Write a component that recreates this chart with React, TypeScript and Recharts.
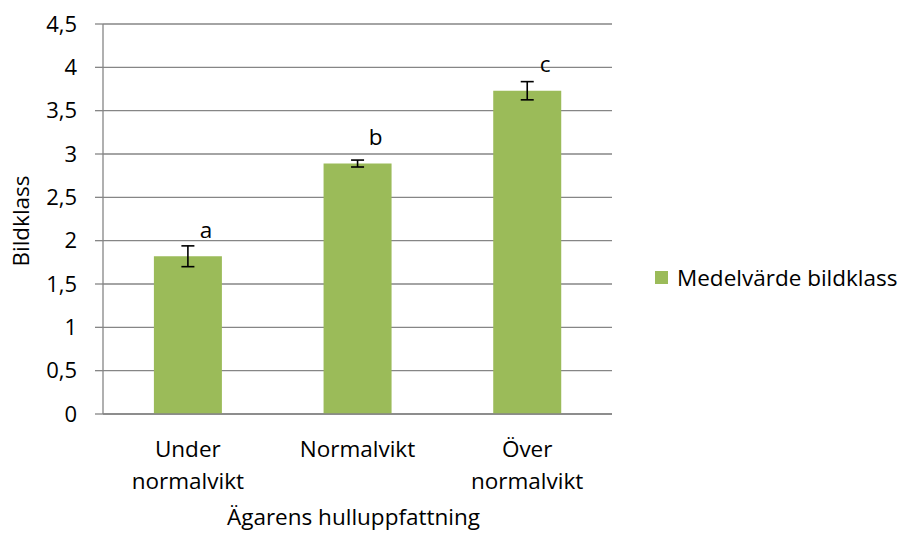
import React from "react";
import { BarChart, Bar, XAxis, YAxis, CartesianGrid, ErrorBar, LabelList, Label } from "recharts";

const categories = ["Under\nnormalvikt", "Normalvikt", "Över\nnormalvikt"];
const meanValues = [1.82, 2.89, 3.73];
const errorValues = [0.12, 0.04, 0.105];
const letters = ["a", "b", "c"];
const yTicks = [0, 0.5, 1, 1.5, 2, 2.5, 3, 3.5, 4, 4.5];
const seriesName = "Medelvärde bildklass";
const xTitle = "Ägarens hulluppfattning";
const yTitle = "Bildklass";

const data = categories.map((c, i) => ({
  cat: c,
  value: meanValues[i],
  err: errorValues[i],
  letter: letters[i],
}));

const FONT = "'Open Sans', sans-serif";
const FS = 22.5;
const GREEN = "#9BBB59";
const GRAY = "#868686";

const XTick = (props: any) => {
  const { x, payload } = props;
  const lines = String(payload.value).split("\n");
  return (
    <g>
      {lines.map((l: string, i: number) => (
        <text
          key={i}
          x={x}
          y={457 + i * 32}
          textAnchor="middle"
          fontFamily={FONT}
          fontSize={FS}
          fill="#000"
        >
          {l}
        </text>
      ))}
    </g>
  );
};

const LetterLabel = (props: any) => {
  const { x, y, width, value } = props;
  return (
    <text
      x={x + width / 2 + 18}
      y={y - 27}
      textAnchor="middle"
      dominantBaseline="central"
      fontFamily={FONT}
      fontSize={FS}
      fill="#000"
    >
      {value}
    </text>
  );
};

export default function App() {
  return (
    <div style={{ position: "absolute", left: 0, top: 0, width: 908, height: 533, background: "#fff" }}>
      <BarChart
        width={908}
        height={533}
        data={data}
        margin={{ top: 24, right: 296, bottom: 0, left: 0 }}
        barCategoryGap="30%"
      >
        <CartesianGrid vertical={false} stroke={GRAY} strokeWidth={1.3} />
        <XAxis
          dataKey="cat"
          height={119}
          axisLine={{ stroke: GRAY, strokeWidth: 1.3 }}
          tickLine={false}
          tick={<XTick />}
          interval={0}
        >
          <Label
            content={(p: any) => {
              const vb = p.viewBox;
              return (
                <text
                  x={vb.x + vb.width / 2 - 4}
                  y={525}
                  textAnchor="middle"
                  fontFamily={FONT}
                  fontSize={FS}
                  fill="#000"
                >
                  {xTitle}
                </text>
              );
            }}
          />
        </XAxis>
        <YAxis
          width={103}
          domain={[0, 4.5]}
          ticks={yTicks}
          interval={0}
          axisLine={{ stroke: GRAY, strokeWidth: 1.3 }}
          tickLine={{ stroke: GRAY, strokeWidth: 1.3 }}
          tickSize={8}
          tickMargin={18}
          tickFormatter={(v: number) => String(v).replace(".", ",")}
          tick={{ fontFamily: FONT, fontSize: 22, fill: "#000" }}
        >
          <Label
            content={() => (
              <text
                x={0}
                y={0}
                transform={`translate(20, 221) rotate(-90)`}
                textAnchor="middle"
                dominantBaseline="central"
                fontFamily={FONT}
                fontSize={FS}
                fill="#000"
              >
                {yTitle}
              </text>
            )}
          />
        </YAxis>
        <Bar dataKey="value" name={seriesName} fill={GREEN} isAnimationActive={false}>
          <ErrorBar dataKey="err" width={6.5} stroke="#000" strokeWidth={1.6} direction="y" />
          <LabelList dataKey="letter" content={<LetterLabel />} />
        </Bar>
      </BarChart>
      <div
        style={{
          position: "absolute",
          left: 655,
          top: 262,
          display: "flex",
          alignItems: "center",
          fontFamily: FONT,
          fontSize: FS,
          color: "#000",
          whiteSpace: "nowrap",
        }}
      >
        <span style={{ display: "inline-block", width: 13, height: 13, background: GREEN, marginRight: 9 }} />
        <span>{seriesName}</span>
      </div>
    </div>
  );
}
